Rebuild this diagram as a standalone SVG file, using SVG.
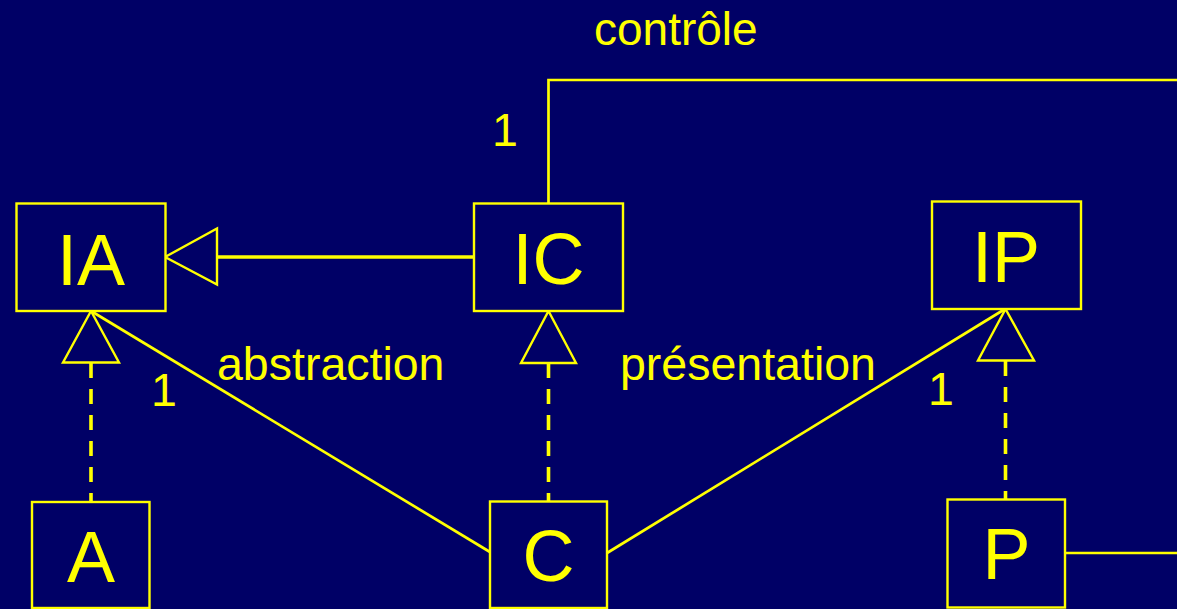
<svg xmlns="http://www.w3.org/2000/svg" width="1177" height="609" viewBox="0 0 1177 609">
<style>
.box{fill:#000066;stroke:#ffff00;stroke-width:2.4}
.big{font-family:"Liberation Sans",Arial,sans-serif;font-size:72px;fill:#ffff00;text-anchor:middle}
.lbl{font-family:"Liberation Sans",Arial,sans-serif;font-size:46.5px;fill:#ffff00}
.ln{fill:none;stroke:#ffff00;stroke-width:2.7}
.thick{fill:none;stroke:#ffff00;stroke-width:3.3}
.dash{fill:none;stroke:#ffff00;stroke-width:3.6;stroke-dasharray:15 11}
.tri{fill:#000066;stroke:#ffff00;stroke-width:2.4;stroke-linejoin:miter}
</style>
<rect x="0" y="0" width="1177" height="609" fill="#000066"/>
<g id="connectors">
<polyline class="ln" points="548.5,203 548.5,80 1177,80"/>
<line class="thick" x1="217" y1="257" x2="474" y2="257"/>
<polygon class="tri" points="165,257 217,228.5 217,284.5"/>
<line class="ln" x1="91" y1="311" x2="490" y2="552"/>
<line class="ln" x1="607" y1="553" x2="1005" y2="309"/>
<line class="ln" x1="1065" y1="553" x2="1177" y2="553"/>
<line class="dash" x1="91" y1="363" x2="91" y2="502"/>
<polygon class="tri" points="91,311 63,362.5 119,362.5"/>
<line class="dash" x1="548.5" y1="363" x2="548.5" y2="501"/>
<polygon class="tri" points="548.5,311 521,363 576,363"/>
<line class="dash" x1="1005.5" y1="361" x2="1005.5" y2="499"/>
<polygon class="tri" points="1005.5,309 978,360.5 1034,360.5"/>
</g>
<g id="IA"><rect class="box" x="16.5" y="203.5" width="149" height="107.5"/><text class="big" x="91" y="284.5">IA</text></g>
<g id="IC"><rect class="box" x="474" y="203.5" width="149" height="107.5"/><text class="big" x="548.5" y="283.5">IC</text></g>
<g id="IP"><rect class="box" x="932" y="201.5" width="149" height="107.5"/><text class="big" x="1006" y="282">IP</text></g>
<g id="A"><rect class="box" x="32" y="502" width="117.5" height="106"/><text class="big" x="91" y="581.5">A</text></g>
<g id="C"><rect class="box" x="490" y="501.5" width="117" height="106.5"/><text class="big" x="548.5" y="580.5">C</text></g>
<g id="P"><rect class="box" x="947.5" y="499.5" width="117.5" height="108"/><text class="big" x="1006.5" y="579">P</text></g>
<g id="labels">
<text class="lbl" x="594" y="44.5" style="font-size:46px">contrôle</text>
<text class="lbl" x="492" y="146">1</text>
<text class="lbl" x="217" y="379.5">abstraction</text>
<text class="lbl" x="151" y="406">1</text>
<text class="lbl" x="620" y="379.5">présentation</text>
<text class="lbl" x="928" y="405">1</text>
</g>
</svg>
